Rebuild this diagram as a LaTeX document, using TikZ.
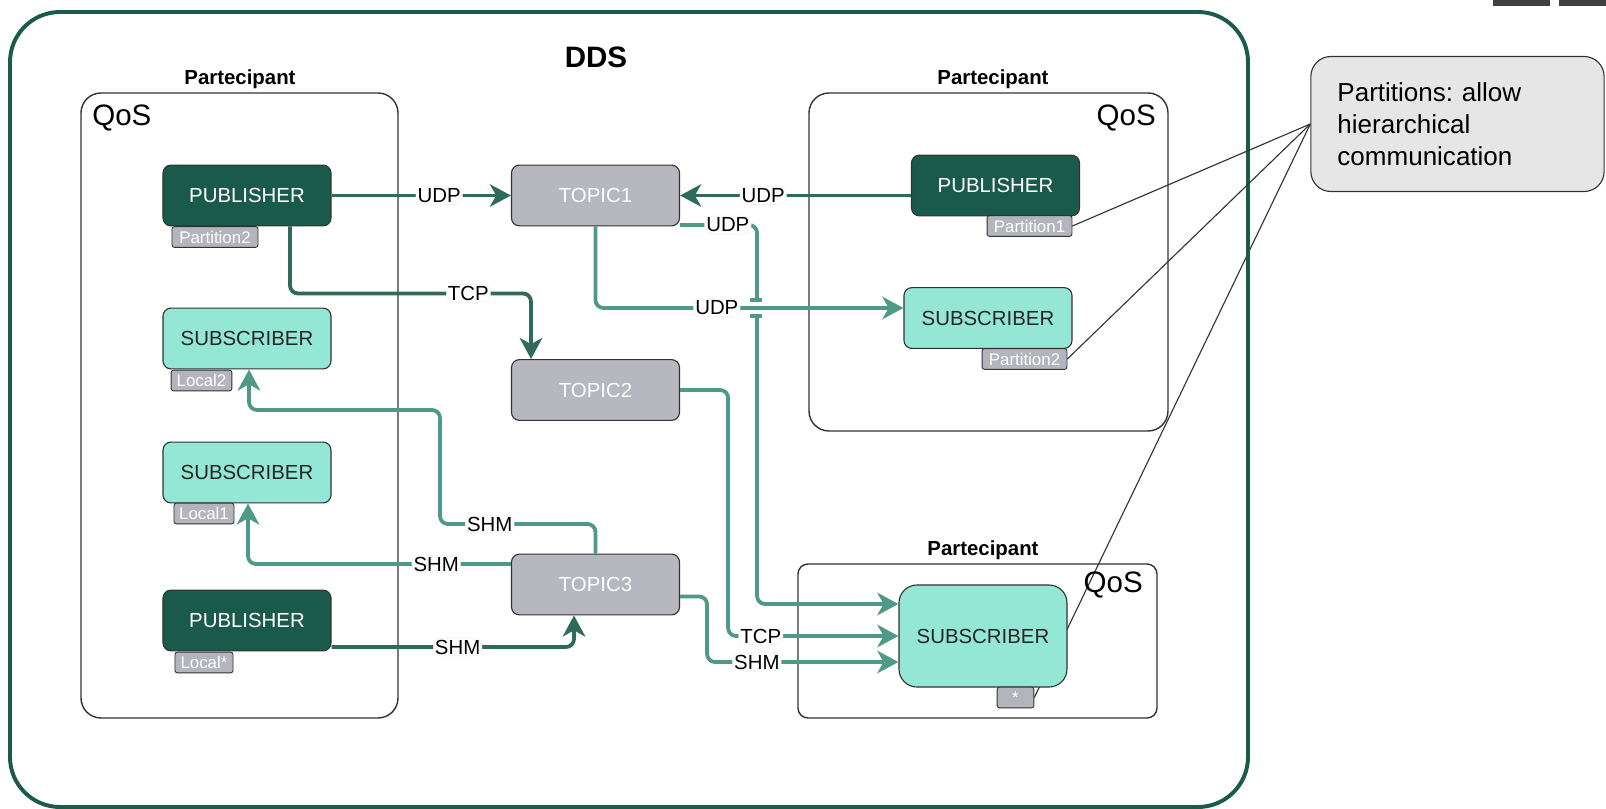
\documentclass[tikz,border=0pt]{standalone}
\usepackage{fontspec}
\setmainfont{Liberation Sans}
\usetikzlibrary{arrows.meta,calc,backgrounds}
\frenchspacing

\definecolor{ddsgreen}{HTML}{1B5B4B}
\definecolor{pubfill}{HTML}{1A5A4A}
\definecolor{subfill}{HTML}{94E6D5}
\definecolor{topicfill}{HTML}{B6B7BF}
\definecolor{tagfill}{HTML}{B4B4BC}
\definecolor{publine}{HTML}{2F6A5A}
\definecolor{subline}{HTML}{4F9A86}
\definecolor{boxline}{HTML}{333333}
\definecolor{notefill}{HTML}{E6E6E6}

\tikzset{
  entity/.style={draw=boxline, line width=0.8pt, rounded corners=0.2cm,
    minimum width=4.2cm, minimum height=1.52cm, inner sep=0pt,
    font=\fontsize{14.5}{17}\selectfont},
  publisher/.style={entity, fill=pubfill, text=white},
  subscriber/.style={entity, fill=subfill, text=black!85},
  topic/.style={entity, fill=topicfill, text=white},
  tag/.style={draw=boxline, line width=0.6pt, fill=tagfill, text=white,
    rounded corners=0.06cm, inner sep=0pt, minimum height=0.52cm,
    font=\fontsize{12}{14}\selectfont},
  proto/.style={fill=white, draw=black!8, line width=0.3pt, inner sep=1.2pt,
    text=black, font=\fontsize{14.5}{16}\selectfont},
  pubflow/.style={draw=publine, line width=2.7pt, rounded corners=0.2cm,
    -{Stealth[length=15pt,width=16pt,inset=4.5pt]}},
  subflow/.style={draw=subline, line width=2.7pt, rounded corners=0.2cm,
    -{Stealth[length=15pt,width=16pt,inset=4.5pt]}},
  partbox/.style={draw=boxline, line width=1pt},
  partlabel/.style={font=\bfseries\fontsize{14.5}{17}\selectfont},
  qos/.style={inner sep=0pt, font=\fontsize{21}{24}\selectfont},
  noteline/.style={draw=boxline, line width=0.8pt},
}

\begin{document}
\begin{tikzpicture}[x=0.025cm, y=-0.025cm]
    \useasboundingbox (0,0) rectangle (1606,809);

    % the outer DDS domain and the partecipants
    \draw[ddsgreen, line width=2.8pt, rounded corners=1.25cm] (10,12) rectangle (1248,807);
    \node[font=\bfseries\fontsize{21}{24}\selectfont] (dds) at (596,57) {DDS};
    \draw[partbox, rounded corners=0.5cm] (81,93) rectangle (398,718);
    \draw[partbox, rounded corners=0.5cm] (809,93) rectangle (1168,431);
    \draw[partbox, rounded corners=0.25cm] (798,564) rectangle (1157,718);
    \node[partlabel] (partA) at (240,79) {Partecipant};
    \node[partlabel] (partB) at (993,79) {Partecipant};
    \node[partlabel] (partC) at (983,550) {Partecipant};
    \node[qos, anchor=west] (qosA) at (92,118) {QoS};
    \node[qos, anchor=east] (qosB) at (1156,118) {QoS};
    \node[qos, anchor=east] (qosC) at (1143,585) {QoS};

    % the entities
    \node[publisher] (pubA) at (247,195.5) {PUBLISHER};
    \node[subscriber] (subA) at (247,338.5) {SUBSCRIBER};
    \node[subscriber] (subB) at (247,472.5) {SUBSCRIBER};
    \node[publisher] (pubB) at (247,620.5) {PUBLISHER};
    \node[topic] (topic1) at (595.5,195.5) {TOPIC1};
    \node[topic] (topic2) at (595.5,390) {TOPIC2};
    \node[topic] (topic3) at (595.5,584.5) {TOPIC3};
    \node[publisher] (pubC) at (995.5,185.5) {PUBLISHER};
    \node[subscriber] (subC) at (988,318) {SUBSCRIBER};
    \node[subscriber, rounded corners=0.45cm, minimum height=2.55cm] (subD) at (983,636) {SUBSCRIBER};

    % the partition tags
    \node[tag, minimum width=2.15cm] (tagA) at (215,237) {Partition2};
    \node[tag, minimum width=1.52cm] (tagB) at (201.5,380.5) {Local2};
    \node[tag, minimum width=1.5cm] (tagC) at (204,513.5) {Local1};
    \node[tag, minimum width=1.45cm] (tagD) at (204,662.5) {Local*};
    \node[tag, minimum width=2.12cm] (tagE) at (1029.5,226) {Partition1};
    \node[tag, minimum width=2.12cm] (tagF) at (1024.5,359) {Partition2};
    \node[tag, minimum width=0.92cm] (tagG) at (1015.5,697.5) {*};

    % the note
    \node[draw=boxline, line width=0.8pt, fill=notefill, rounded corners=0.5cm,
      minimum width=7.33cm, minimum height=3.375cm, text width=6cm, align=left,
      inner xsep=0.65cm, font=\fontsize{18.5}{22.8}\selectfont] (note) at (1457.5,124)
      {Partitions: allow\\hierarchical\\communication};
    \fill[black!75] (1493,0) rectangle (1550,6);
    \fill[black!75] (1559,0) rectangle (1606,6);

    % the writers
    \draw[pubflow] (pubA.east) -- node[proto, pos=0.6] {UDP} (topic1.west);
    \draw[pubflow] (pubC.west |- topic1.east) -- node[proto, pos=0.64] {UDP} (topic1.east);
    \draw[pubflow] ($(pubA.south)+(43,0)$) -- ++(0,67)
      -| node[proto, pos=0.37] {TCP} ($(topic2.north)+(-64.5,0)$);
    \draw[pubflow] ($(pubB.east)+(0,26.5)$) -| node[proto, pos=0.26] {SHM} ($(topic3.south)+(-21.5,0)$);

    % the readers
    \draw[subflow] ($(topic1.east)+(0,29.5)$) -- node[proto, pos=0.62] {UDP} ++(77,0)
      |- ($(subD.west)+(0,-32)$);
    % line jump
    \draw[white, line width=11.4pt] (748,308) -- (764,308);
    \draw[subline, line width=2.2pt] (750,300) -- (762,300) (750,316) -- (762,316);
    \draw[subflow] (topic1.south) |- node[proto, pos=0.697] {UDP} ($(subC.west)+(0,-10)$);
    \draw[subflow] (topic2.east) -- ++(48,0) |- node[proto, pos=0.596] {TCP} (subD.west);
    \draw[subflow] ($(topic3.east)+(0,12)$) -- ++(27,0) |- node[proto, pos=0.63] {SHM} ($(subD.west)+(0,26)$);
    \draw[subflow] (topic3.north) |- node[proto, pos=0.84] {SHM} (440,524)
      -- (440,410) -| ($(subA.south)+(2,0)$);
    \draw[subflow] ($(topic3.west)+(0,-20.5)$) -| node[proto, pos=0.142] {SHM} ($(subB.south)+(1,0)$);

    % the note connectors
    \draw[noteline] (tagE.east) -- (note.west);
    \draw[noteline] (tagF.east) -- (note.west);
    \begin{pgfonlayer}{background}
      \draw[noteline] (tagG.east) -- (note.west);
    \end{pgfonlayer}
\end{tikzpicture}
\end{document}
